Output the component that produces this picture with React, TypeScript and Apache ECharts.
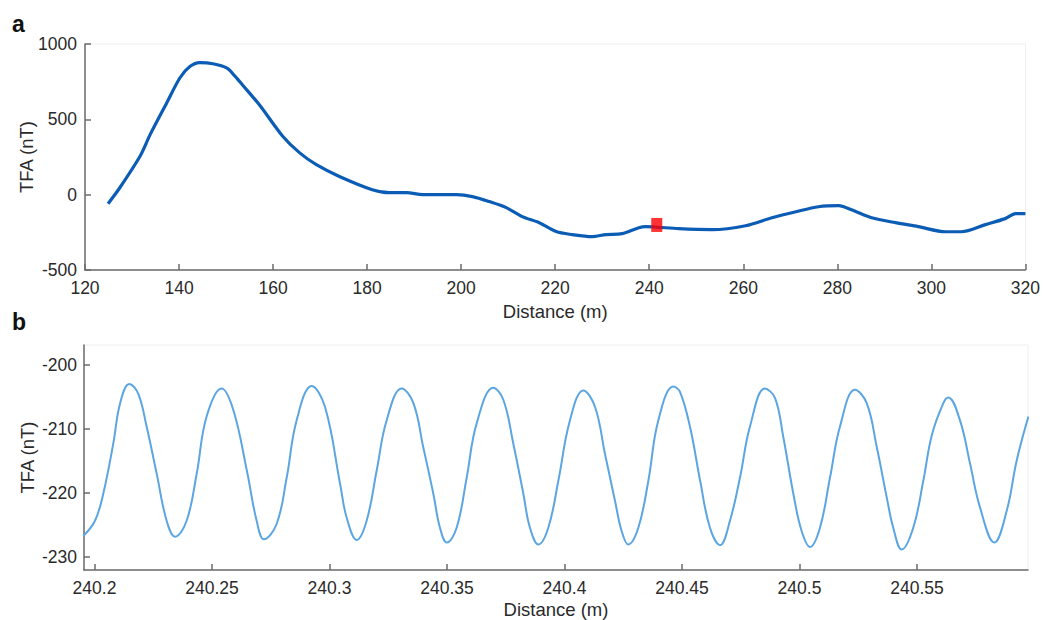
import React, { useEffect, useRef } from "react";
import * as echarts from "echarts";

// Panel a: overview profile
const topDistance = [
  124.9, 127.4, 131.7, 133.8, 137.4, 140.2, 142.3, 144.4, 147.2, 150.2, 151.8, 153.5,
  157.2, 162.0, 165.6, 169.2, 174.1, 181.1, 184.7, 188.4, 191.8, 199.0, 202.4, 206.0,
  209.6, 213.0, 216.6, 220.2, 223.6, 227.8, 230.8, 234.2, 237.8, 239.2, 246.3, 253.3,
  260.5, 266.1, 271.2, 276.0, 280.3, 283.0, 287.3, 292.4, 297.2, 303.0, 306.4, 311.5,
  315.7, 317.9, 320.0,
];
const topTFA = [
  -60, 46, 255, 395, 610, 776, 850, 876, 869, 840, 790, 728,
  592, 390, 279, 199, 121, 33, 13, 13, 0, 0, -13, -46,
  -86, -146, -186, -245, -265, -279, -265, -259, -219, -212, -226, -232,
  -206, -153, -113, -80, -73, -100, -153, -186, -212, -246, -246, -199,
  -159, -126, -126,
];
const markerDistance = [241.6];
const markerTFA = [-201];

// Panel b: zoomed section
const bottomDistance = [
  240.1952, 240.2002, 240.2037, 240.208, 240.2109, 240.2148, 240.2186, 240.2222, 240.2265,
  240.2307, 240.2343, 240.2392, 240.2435, 240.2477, 240.2541, 240.2591, 240.2648, 240.269,
  240.2721, 240.2775, 240.2818, 240.286, 240.2924, 240.2981, 240.3045, 240.3073, 240.3116,
  240.3158, 240.3201, 240.3243, 240.3307, 240.3357, 240.3399, 240.3442, 240.347, 240.3499,
  240.3541, 240.3584, 240.3626, 240.3697, 240.374, 240.3782, 240.3825, 240.3853, 240.3889,
  240.3931, 240.3974, 240.4023, 240.408, 240.413, 240.4172, 240.4215, 240.4243, 240.4271,
  240.4314, 240.4357, 240.4399, 240.4463, 240.4491, 240.4534, 240.4577, 240.4619, 240.4662,
  240.4704, 240.4747, 240.4789, 240.4853, 240.4896, 240.4931, 240.4974, 240.5009, 240.5045,
  240.5087, 240.513, 240.5172, 240.5236, 240.5286, 240.5329, 240.5371, 240.5399, 240.5435,
  240.5484, 240.5527, 240.5563, 240.5612, 240.5633, 240.5683, 240.5726, 240.5768, 240.5829,
  240.5882, 240.5924, 240.5974,
];
const bottomTFA = [
  -226.8, -224.4, -220.2, -212.3, -206.0, -203.0, -204.5, -209.7, -217.1,
  -224.4, -226.9, -224.4, -217.0, -208.1, -203.7, -207.1, -216.5, -224.4,
  -227.3, -224.9, -217.6, -208.7, -203.3, -206.6, -218.6, -223.9, -227.4,
  -224.4, -216.5, -208.7, -203.7, -206.0, -212.9, -220.2, -225.5, -227.8,
  -225.5, -217.6, -209.2, -203.6, -205.5, -212.3, -220.2, -225.5, -228.1,
  -225.5, -218.1, -208.7, -204.0, -206.6, -213.9, -221.3, -226.0, -228.1,
  -225.5, -218.1, -208.7, -203.4, -204.2, -209.7, -218.1, -225.5, -228.2,
  -224.4, -217.6, -209.7, -203.7, -205.2, -211.3, -220.2, -226.0, -228.5,
  -225.5, -217.6, -209.7, -203.9, -206.0, -212.9, -220.7, -225.5, -228.9,
  -225.5, -218.1, -211.0, -206.0, -205.1, -208.7, -215.5, -222.3, -227.8,
  -222.8, -215.0, -208.1,
];
const bottomXTicks = [240.2, 240.25, 240.3, 240.35, 240.4, 240.45, 240.5, 240.55];
const bottomYTicks = [-230, -220, -210, -200];

const FONT = "'Liberation Sans', Arial, sans-serif";
const axisLineStyle = { color: "#6b6b6b", width: 1.5 };
const labelStyle = { color: "#2a2a2a", fontSize: 17.5, fontFamily: FONT };
const nameStyle = { color: "#2a2a2a", fontSize: 18.5, fontFamily: FONT };

export default function App() {
  const ref = useRef<HTMLDivElement>(null);
  useEffect(() => {
    if (!ref.current) return;
    const chart = echarts.init(ref.current, null, { renderer: "svg" });
    const fmt = (v: number) => String(Number(v.toFixed(2)));
    chart.setOption({
      animation: false,
      backgroundColor: "#ffffff",
      grid: [
        { left: 85, top: 44, width: 942.5, height: 226, show: true, borderColor: "#efefef", borderWidth: 1 },
        { left: 84, top: 345, width: 944, height: 225, show: true, borderColor: "#efefef", borderWidth: 1 },
      ],
      xAxis: [
        {
          type: "value", gridIndex: 0, min: 120, max: 320, interval: 20,
          name: "Distance (m)", nameLocation: "middle", nameGap: 32, nameMoveOverlap: false, nameTextStyle: nameStyle,
          axisLine: { show: true, onZero: false, lineStyle: axisLineStyle },
          axisTick: { show: true, inside: true, length: 6, lineStyle: axisLineStyle },
          axisLabel: { ...labelStyle, margin: 9, formatter: fmt },
          splitLine: { show: false },
        },
        {
          type: "value", gridIndex: 1, min: 240.19553, max: 240.59723,
          name: "Distance (m)", nameLocation: "middle", nameGap: 30, nameMoveOverlap: false, nameTextStyle: nameStyle,
          axisLine: { show: true, onZero: false, lineStyle: axisLineStyle },
          axisTick: { show: true, inside: true, length: 6, lineStyle: axisLineStyle, customValues: bottomXTicks },
          axisLabel: { ...labelStyle, margin: 9, customValues: bottomXTicks, formatter: fmt },
          splitLine: { show: false },
        },
      ],
      yAxis: [
        {
          type: "value", gridIndex: 0, min: -500, max: 1000, interval: 500,
          name: "TFA (nT)", nameLocation: "middle", nameGap: 49, nameMoveOverlap: false, nameTextStyle: nameStyle,
          axisLine: { show: true, onZero: false, lineStyle: axisLineStyle },
          axisTick: { show: true, inside: true, length: 6, lineStyle: axisLineStyle },
          axisLabel: { ...labelStyle, margin: 8, formatter: fmt },
          splitLine: { show: false },
        },
        {
          type: "value", gridIndex: 1, min: -232.1, max: -196.9,
          name: "TFA (nT)", nameLocation: "middle", nameGap: 47, nameMoveOverlap: false, nameTextStyle: nameStyle,
          axisLine: { show: true, onZero: false, lineStyle: axisLineStyle },
          axisTick: { show: true, inside: true, length: 6, lineStyle: axisLineStyle, customValues: bottomYTicks },
          axisLabel: { ...labelStyle, margin: 7, customValues: bottomYTicks, formatter: fmt },
          splitLine: { show: false },
        },
      ],
      series: [
        {
          type: "line", xAxisIndex: 0, yAxisIndex: 0, showSymbol: false, smooth: 0.3,
          data: topDistance.map((d, i) => [d, topTFA[i]]),
          lineStyle: { color: "#0b5cb5", width: 3.2 },
        },
        {
          type: "scatter", xAxisIndex: 0, yAxisIndex: 0, symbol: "rect", symbolSize: [11, 14],
          data: markerDistance.map((d, i) => [d, markerTFA[i]]),
          itemStyle: { color: "#ff0000" }, z: 5,
        },
        {
          type: "line", xAxisIndex: 1, yAxisIndex: 1, showSymbol: false, smooth: 0.4,
          data: bottomDistance.map((d, i) => [d, bottomTFA[i]]),
          lineStyle: { color: "#5ba6e2", width: 2 },
        },
      ],
      graphic: [
        { type: "text", left: 12, top: 12, style: { text: "a", font: `bold 23px ${FONT}`, fill: "#111" } },
        { type: "text", left: 12, top: 310, style: { text: "b", font: `bold 23px ${FONT}`, fill: "#111" } },
      ],
    });
    return () => chart.dispose();
  }, []);
  return <div ref={ref} style={{ position: "absolute", left: 0, top: 0, width: 1043, height: 620 }} />;
}
